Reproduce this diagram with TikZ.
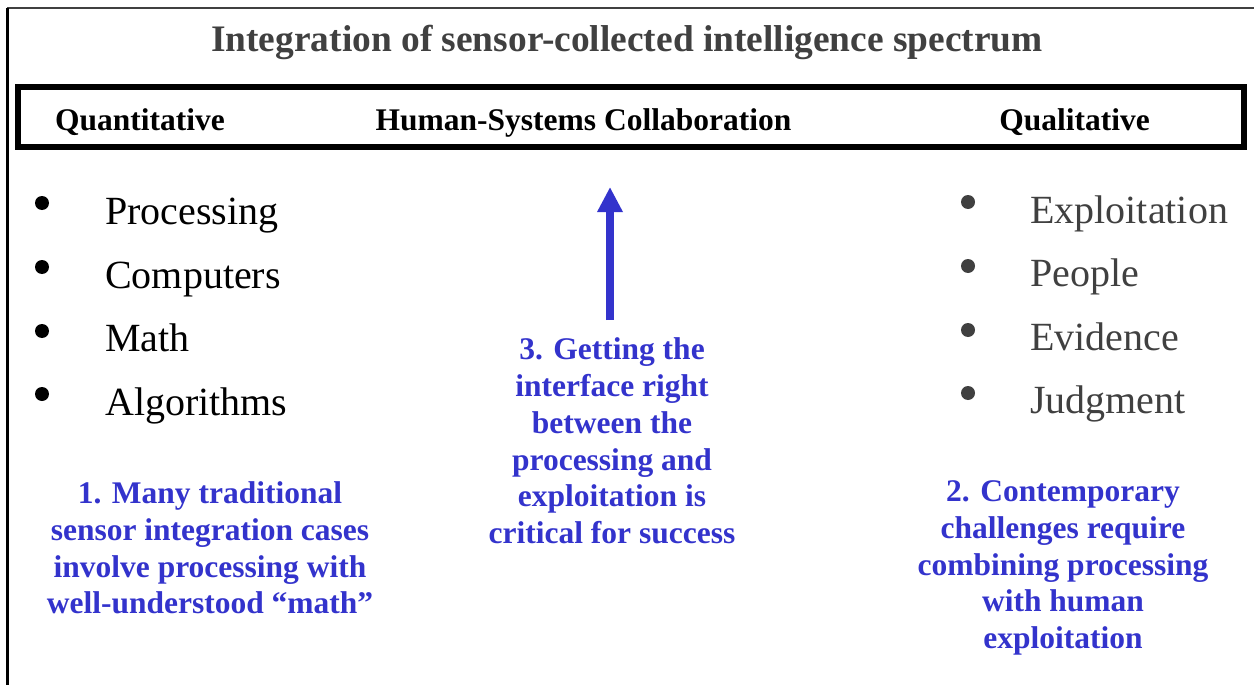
\documentclass[tikz,border=0pt]{standalone}
\usepackage{fontspec}
\setmainfont{Liberation Serif}
\usetikzlibrary{arrows.meta}
\definecolor{bluetxt}{RGB}{51,51,204}
\definecolor{darkgr}{RGB}{64,64,64}
\tikzset{
  hdr/.style={font=\fontsize{31.5}{36}\selectfont\bfseries, anchor=base, inner sep=0pt},
  item/.style={font=\fontsize{40}{44}\selectfont, anchor=base west, inner sep=0pt},
  dot/.style={circle, fill, inner sep=0pt, minimum size=14pt},
  note/.style={font=\fontsize{31.5}{36.8}\selectfont\bfseries, text=bluetxt, align=center, inner sep=0pt},
}
\begin{document}
\begin{tikzpicture}[x=1pt,y=-1pt]
\useasboundingbox (0,0) rectangle (1254,685);
% frame
\draw[line width=2pt, darkgr] (7,8) -- (1254,8);
\draw[line width=3pt, black] (7,8) -- (7,685);
% title
\node[hdr, text=darkgr, font=\fontsize{37.4}{40}\selectfont\bfseries] (title) at (627,52) {Integration of sensor-collected intelligence spectrum};
% header box
\draw[line width=6pt] (18,87.5) rectangle (1244,147);
\node[hdr] (quant) at (140,130) {Quantitative};
\node[hdr] (hsc) at (583.5,130) {Human-Systems Collaboration};
\node[hdr] (qual) at (1074.5,130) {Qualitative};
% left bullets
\node[dot] (ld1) at (42,203) {};
\node[dot] (ld2) at (42,267) {};
\node[dot] (ld3) at (42,331) {};
\node[dot] (ld4) at (42,394) {};
\node[item] (l1) at (105,224) {Processing};
\node[item] (l2) at (105,288) {Computers};
\node[item] (l3) at (105,351) {Math};
\node[item] (l4) at (105,415) {Algorithms};
% right bullets
\node[dot, fill=darkgr] (rd1) at (968,202) {};
\node[dot, fill=darkgr] (rd2) at (968,266) {};
\node[dot, fill=darkgr] (rd3) at (968,330) {};
\node[dot, fill=darkgr] (rd4) at (968,393) {};
\node[item, text=darkgr] (r1) at (1030,223) {Exploitation};
\node[item, text=darkgr] (r2) at (1030,286) {People};
\node[item, text=darkgr] (r3) at (1030,350) {Evidence};
\node[item, text=darkgr] (r4) at (1030,413) {Judgment};
% notes
\node[note] (n1) at (210,548) {1. Many traditional\\sensor integration cases\\involve processing with\\well-understood “math”};
\node[note] (n3) at (612,441) {3. Getting the\\interface right\\between the\\processing and\\exploitation is\\critical for success};
\node[note] (n2) at (1063,568) {2. Contemporary\\challenges require\\combining processing\\with human\\exploitation};
% arrow
\coordinate (abot) at (610,320);
\coordinate (atop) at (610,187);
\draw[line width=8pt, bluetxt, -{Triangle[width=24pt,length=25pt]}] (abot) -- (atop);
\end{tikzpicture}
\end{document}
